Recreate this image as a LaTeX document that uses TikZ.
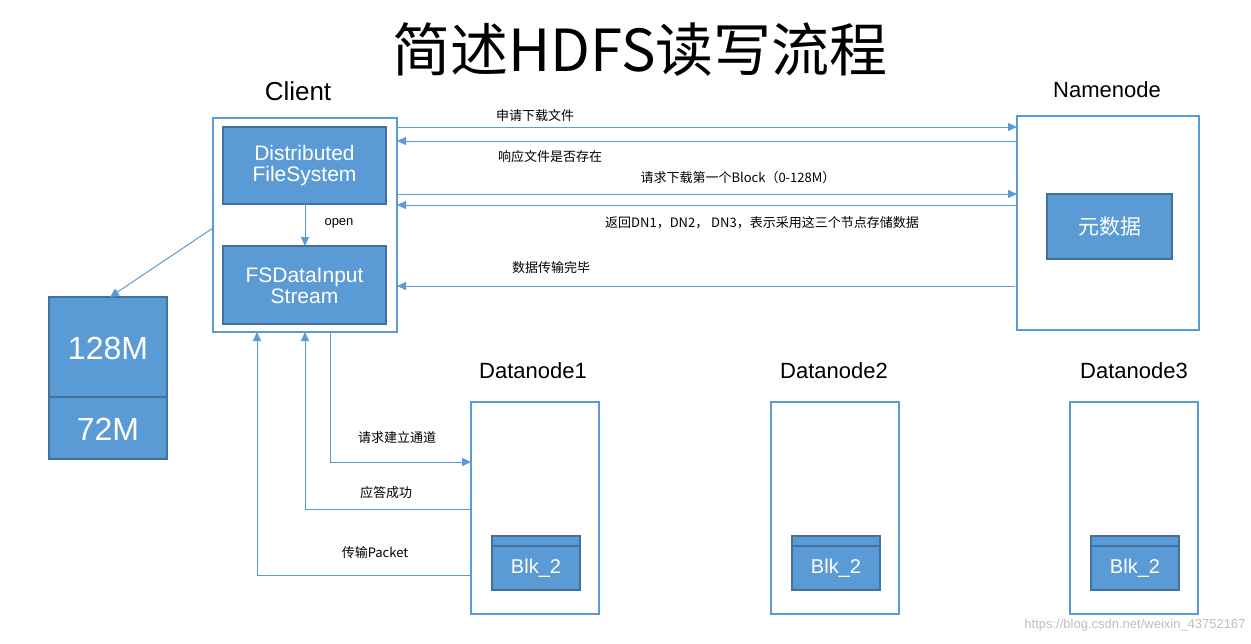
\documentclass[tikz,border=0pt]{standalone}
\usepackage{fontspec}
\setmainfont{Liberation Sans}
\newfontfamily\cjk{Noto Sans CJK SC}
\usetikzlibrary{arrows.meta}
\definecolor{bl}{HTML}{5B9BD5}
\definecolor{dk}{HTML}{41719C}
\begin{document}
\begin{tikzpicture}[x=1pt,y=-1pt,
  frame/.style={draw=bl,line width=2pt},
  blk/.style={draw=dk,line width=1.5pt,fill=bl},
  wt/.style={text=white,font=\fontsize{21}{24}\selectfont,align=center},
  lab/.style={font=\cjk\fontsize{13}{15}\selectfont},
  hd/.style={font=\fontsize{22}{26}\selectfont},
  arr/.style={draw=bl,line width=1pt,-{Triangle[length=9pt,width=8pt]}}]
\useasboundingbox (0,0) rectangle (1251,643);
\fill[white] (0,0) rectangle (1251,643);
\node[font=\cjk\fontsize{58}{64}\selectfont] (title) at (640,50) {简述HDFS读写流程};
\node[hd,font=\fontsize{26}{30}\selectfont] (cl) at (298,91) {Client};
\node[hd] (nnl) at (1107,90) {Namenode};
\node[hd] (d1l) at (533,371) {Datanode1};
\node[hd] (d2l) at (834,371) {Datanode2};
\node[hd] (d3l) at (1134,371) {Datanode3};
% client
\draw[frame] (213,118) rectangle (397,332);
\draw[blk] (223,127) rectangle (386,204);
\node[wt] (dfs) at (304.5,166) {Distributed\\[-3pt]FileSystem};
\draw[blk] (223,246) rectangle (386,324);
\node[wt] (fsd) at (304.5,286) {FSDataInput\\[-3pt]Stream};
\coordinate (o1) at (305,204); \coordinate (o2) at (305,246);
\draw[arr] (o1) -- (o2);
\node[lab,font=\fontsize{13}{15}\selectfont] at (339,223) {open};
% namenode
\draw[frame] (1017,116) rectangle (1199,330);
\draw[blk] (1047,194) rectangle (1172,259);
\node[wt,font=\cjk\fontsize{21}{24}\selectfont] (meta) at (1109.5,226.5) {元数据};
% namenode arrows
\coordinate (a1) at (397,127); \coordinate (b1) at (1017,127);
\coordinate (a2) at (397,141); \coordinate (b2) at (1017,141);
\coordinate (a3) at (397,194); \coordinate (b3) at (1017,194);
\coordinate (a4) at (397,205); \coordinate (b4) at (1017,205);
\coordinate (a5) at (397,286); \coordinate (b5) at (1015,286);
\draw[arr] (a1) -- (b1);
\draw[arr] (b2) -- (a2);
\draw[arr] (a3) -- (b3);
\draw[arr] (b4) -- (a4);
\draw[arr] (b5) -- (a5);
\node[lab] at (535,116) {申请下载文件};
\node[lab] at (550,157) {响应文件是否存在};
\node[lab] at (738,178) {请求下载第一个Block（0-128M）};
\node[lab] at (762,223) {返回DN1，DN2， DN3，表示采用这三个节点存储数据};
\node[lab] at (551,268) {数据传输完毕};
% left block
\draw[blk] (49,297) rectangle (167,397);
\draw[blk] (49,397) rectangle (167,459);
\node[wt,font=\fontsize{32}{36}\selectfont] (m128) at (108,348) {128M};
\node[wt,font=\fontsize{32}{36}\selectfont] (m72) at (108,429) {72M};
\coordinate (cL) at (213,228); \coordinate (bT) at (110,297);
\draw[arr] (cL) -- (bT);
% datanodes
\foreach \x/\n in {471/1,771/2,1070/3}{
  \draw[frame] (\x,402) rectangle (\x+128,614);
  \draw[blk] (\x+21,536) rectangle (\x+109,590);
  \draw[dk,line width=1.5pt] (\x+21,546) -- (\x+109,546);
  \node[wt,font=\fontsize{20}{24}\selectfont] (blk\n) at (\x+65,568) {Blk\_2};
}
% client-datanode arrows
\coordinate (c1) at (330,332); \coordinate (d1a) at (471,462);
\coordinate (c2) at (305,332); \coordinate (d1b) at (471,509);
\coordinate (c3) at (257,332); \coordinate (d1c) at (471,575);
\draw[arr] (c1) |- (d1a);
\draw[arr] (d1b) -| (c2);
\draw[arr] (d1c) -| (c3);
\node[lab] at (397,438) {请求建立通道};
\node[lab] at (386,493) {应答成功};
\node[lab] at (375,553) {传输Packet};
\node[text=black!25,font=\fontsize{13}{15}\selectfont] (wm) at (1135,625) {https://blog.csdn.net/weixin\_43752167};
\end{tikzpicture}
\end{document}
